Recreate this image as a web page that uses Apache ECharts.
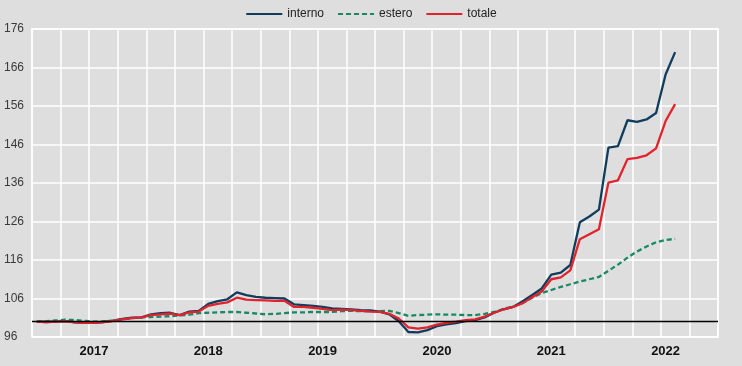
<!DOCTYPE html>
<html>
<head>
<meta charset="utf-8">
<script src="https://cdn.jsdelivr.net/npm/echarts@6/dist/echarts.min.js"></script>
<style>
html,body{margin:0;padding:0;background:#dedede;}
#chart{width:742px;height:366px;}
</style>
</head>
<body>
<div id="chart"></div>
<script>
// Tick labels (years) and months
const years = ['2017', '2018', '2019', '2020', '2021', '2022'];
const months = ['01','02','03','04','05','06','07','08','09','10','11','12'];

// Monthly index values, Jan 2017 - Aug 2022
const interno = [
  100.0, 99.9, 100.0, 100.1, 99.8, 99.7, 99.7, 99.9, 100.2, 100.7, 101.0, 101.1,
  101.9, 102.2, 102.3, 101.7, 102.6, 102.8, 104.6, 105.3, 105.8, 107.6, 106.9, 106.4,
  106.2, 106.1, 106.0, 104.5, 104.3, 104.1, 103.8, 103.4, 103.3, 103.2, 103.0, 102.9,
  102.6, 101.9, 100.1, 97.3, 97.2, 97.8, 98.8, 99.3, 99.6, 100.1, 100.4, 101.1,
  102.3, 103.2, 103.8, 105.3, 106.9, 108.6, 112.2, 112.7, 114.7, 125.8, 127.3, 129.1,
  145.2, 145.6, 152.3, 151.9, 152.5, 154.2, 164.2, 170.0
];
const estero = [
  100.0, 100.1, 100.3, 100.5, 100.4, 100.2, 100.0, 100.1, 100.3, 100.6, 100.9, 101.1,
  101.2, 101.3, 101.4, 101.6, 101.8, 102.2, 102.3, 102.4, 102.5, 102.5, 102.3, 102.1,
  101.9, 102.0, 102.2, 102.4, 102.4, 102.5, 102.5, 102.5, 102.7, 102.8, 102.7, 102.7,
  102.7, 102.8, 102.2, 101.5, 101.7, 101.8, 101.9, 101.8, 101.8, 101.7, 101.7, 102.0,
  102.5, 103.3, 103.9, 104.8, 106.2, 107.4, 108.2, 109.0, 109.7, 110.4, 111.0, 111.6,
  113.2, 114.8, 116.6, 118.2, 119.5, 120.6, 121.2, 121.5
];
const totale = [
  100.0, 99.9, 100.0, 100.1, 99.8, 99.7, 99.7, 99.9, 100.2, 100.6, 100.9, 101.1,
  101.7, 101.9, 102.1, 101.7, 102.4, 102.6, 104.1, 104.6, 105.0, 106.2, 105.7, 105.6,
  105.5, 105.4, 105.4, 103.8, 103.8, 103.6, 103.3, 103.0, 103.1, 103.0, 102.8, 102.6,
  102.5, 102.0, 100.8, 98.5, 98.2, 98.5, 99.2, 99.7, 100.0, 100.4, 100.6, 101.3,
  102.3, 103.2, 103.8, 104.8, 106.3, 107.8, 111.0, 111.5, 113.3, 121.4, 122.7, 124.0,
  136.1, 136.7, 142.2, 142.5, 143.2, 145.0, 152.1, 156.5
];
const baseline = 100;

const categories = [];
years.forEach(y => months.forEach(m => categories.push(y + '-' + m)));

const FONT = "'Liberation Sans Narrow', 'Arial Narrow', 'Liberation Sans', Arial, sans-serif";
const chart = echarts.init(document.getElementById('chart'), null, {renderer: 'canvas'});
chart.setOption({
  backgroundColor: '#dedede',
  animation: false,
  textStyle: {fontFamily: FONT},
  legend: {
    top: 3,
    left: 'center',
    itemWidth: 36,
    itemHeight: 14,
    itemGap: 13,
    itemStyle: {color: 'transparent', borderWidth: 0, opacity: 0},
    textStyle: {fontFamily: FONT, fontSize: 12, color: '#222'},
    data: ['interno', 'estero', 'totale']
  },
  grid: {
    left: 32, right: 24, top: 29, bottom: 29,
    show: true, borderColor: '#ffffff', borderWidth: 1.5, backgroundColor: 'transparent'
  },
  xAxis: {
    type: 'category',
    data: categories,
    boundaryGap: true,
    axisLine: {show: false},
    axisTick: {show: false},
    axisLabel: {
      interval: (i) => i % 12 === 6,
      formatter: (v) => v.slice(0, 4),
      fontFamily: FONT, fontSize: 13, fontWeight: 'bold', color: '#111', margin: 8
    },
    splitLine: {
      show: true,
      interval: (i) => i % 3 === 0,
      lineStyle: {color: '#ffffff', width: 1.5}
    }
  },
  yAxis: {
    type: 'value',
    min: 96, max: 176, interval: 10,
    axisLine: {show: false},
    axisTick: {show: false},
    axisLabel: {fontFamily: FONT, fontSize: 12, color: '#3a3a3a', align: 'left', margin: 28},
    splitLine: {show: true, lineStyle: {color: '#ffffff', width: 1.5}}
  },
  series: [
    {
      name: 'interno', type: 'line', data: interno, showSymbol: false, symbol: 'none',
      lineStyle: {color: '#103c5e', width: 2.3}, itemStyle: {color: '#103c5e'}, z: 3,
      markLine: {
        silent: true, symbol: 'none', label: {show: false},
        lineStyle: {color: '#000', type: 'solid', width: 1.3},
        data: [{yAxis: baseline}]
      }
    },
    {
      name: 'estero', type: 'line', data: estero, showSymbol: false, symbol: 'none',
      lineStyle: {color: '#178a64', width: 2.3, type: [5, 3]}, itemStyle: {color: '#178a64'}, z: 2
    },
    {
      name: 'totale', type: 'line', data: totale, showSymbol: false, symbol: 'none',
      lineStyle: {color: '#e0232d', width: 2.3}, itemStyle: {color: '#e0232d'}, z: 4
    }
  ]
});
</script>
</body>
</html>
